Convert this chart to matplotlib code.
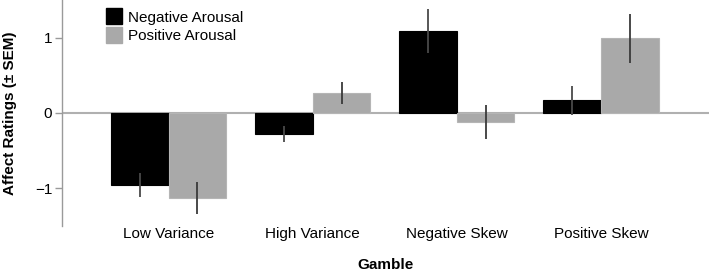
import matplotlib
matplotlib.use("Agg")
import matplotlib.pyplot as plt
import numpy as np
from matplotlib.lines import Line2D

plt.rcParams['font.family'] = ['Liberation Sans', 'DejaVu Sans']

categories = ["Low Variance", "High Variance", "Negative Skew", "Positive Skew"]
negative_arousal = [-0.96, -0.28, 1.09, 0.17]
negative_sem = [0.16, 0.105, 0.29, 0.19]
positive_arousal = [-1.13, 0.26, -0.12, 0.99]
positive_sem = [0.21, 0.145, 0.22, 0.33]
series_labels = ["Negative Arousal", "Positive Arousal"]
yticks = [-1, 0, 1]
ytick_labels = ["\u22121", "0", "1"]

black = "#000000"
gray = "#a9a9a9"
spine_col = "#9a9a9a"

fig = plt.figure(figsize=(7.09, 2.74), dpi=100)
ax = fig.add_axes([62/709, 48/274, 1 - 62/709, 226/274])

x = np.arange(len(categories))
w = 0.4
ax.bar(x - w/2, negative_arousal, width=w, color=black, edgecolor=black, linewidth=0.8, zorder=2)
ax.bar(x + w/2, positive_arousal, width=w, color=gray, edgecolor="#b5b5b5", linewidth=0.8, zorder=2)
ax.errorbar(x - w/2, negative_arousal, yerr=negative_sem, fmt='none', ecolor="#4a4a4a", elinewidth=1.3, capsize=0, zorder=3)
ax.errorbar(x + w/2, positive_arousal, yerr=positive_sem, fmt='none', ecolor="#3a3a3a", elinewidth=1.3, capsize=0, zorder=3)
ax.axhline(0, color="#b0b0b0", linewidth=1.5, zorder=1)

ax.set_xlim(-0.74, 3.75)
ax.set_ylim(-1.5, 1.5)
ax.set_yticks(yticks)
ax.set_yticklabels(ytick_labels, fontsize=11)
ax.set_xticks(x)
ax.set_xticklabels(categories, fontsize=11)
ax.tick_params(axis='x', length=0, pad=1)
ax.tick_params(axis='y', length=5, color=spine_col, width=1, pad=2)
for s in ['top', 'right', 'bottom']:
    ax.spines[s].set_visible(False)
ax.spines['left'].set_color(spine_col)
ax.spines['left'].set_linewidth(1)
ax.spines['left'].set_bounds(-1.5, 1.5)

ax.set_xlabel("Gamble", fontsize=11, fontweight='bold', labelpad=12)
ax.set_ylabel("Affect Ratings (\u00b1 SEM)", fontsize=11, fontweight='bold', labelpad=13)

handles = [Line2D([], [], marker='s', linestyle='none', markersize=12, markerfacecolor=black, markeredgecolor=black),
           Line2D([], [], marker='s', linestyle='none', markersize=12, markerfacecolor=gray, markeredgecolor=gray)]
ax.legend(handles, series_labels, loc='upper left', bbox_to_anchor=(0.066, 0.953), frameon=False,
          fontsize=11, handletextpad=0.3, labelspacing=0.3, handlelength=1.2, borderaxespad=0, borderpad=0)

fig.savefig("out.png", dpi=100)
